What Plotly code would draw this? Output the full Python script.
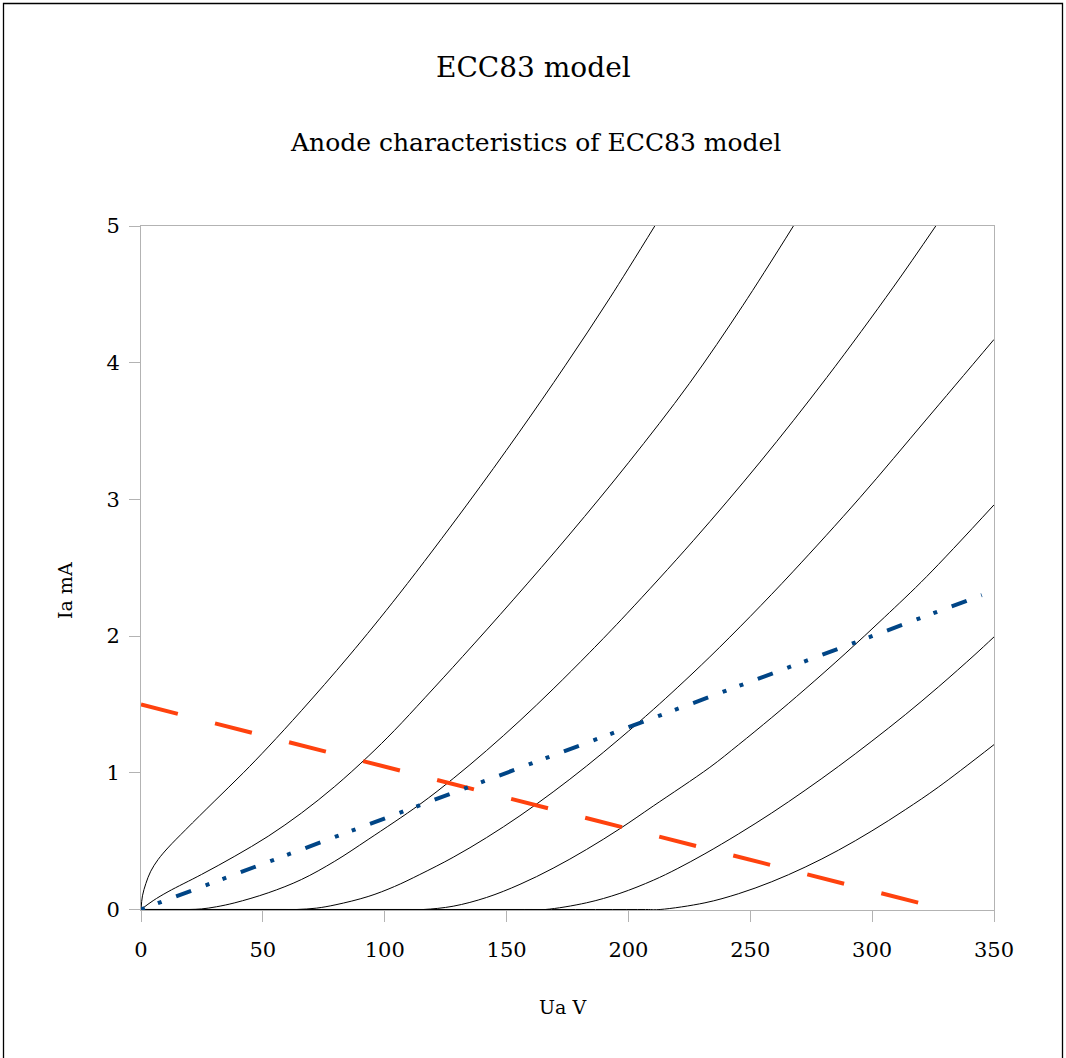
import plotly.graph_objects as go

# ---- data (Ua in V, Ia in mA) ----
ua_g1 = [0, 0.6, 2, 4, 7, 11, 18.4, 30, 42, 52.2, 65.8, 85.3, 106, 133.6, 155, 174, 192.4, 210.8]
ia_g1 = [0, 0.10, 0.19, 0.28, 0.365, 0.45, 0.585, 0.79, 1.0, 1.189, 1.454, 1.854, 2.309, 2.958, 3.487, 3.977, 4.474, 5.0]

ua_g2 = [0, 5, 11.1, 24.8, 38.5, 52.2, 65.8, 79.5, 93.2, 104, 116.5, 132, 152.7, 176, 200, 225, 247, 267.7]
ia_g2 = [0, 0.065, 0.13, 0.256, 0.39, 0.536, 0.705, 0.90, 1.12, 1.31, 1.549, 1.851, 2.265, 2.747, 3.268, 3.848, 4.42, 5.0]

ua_g3 = [0, 15, 20, 24.8, 31, 38.5, 52.2, 65.8, 79.5, 93.2, 114.4, 128.1, 141.8, 155.5, 169.1, 184.2, 199.3, 226.6, 254, 281.4, 308.7, 326.1]
ia_g3 = [0, 0, 0, 0.004, 0.02, 0.049, 0.122, 0.219, 0.353, 0.512, 0.769, 0.958, 1.163, 1.382, 1.613, 1.882, 2.163, 2.698, 3.273, 3.892, 4.553, 5.0]

ua_g4 = [0, 58, 64, 72, 80, 93.2, 104, 114.4, 128.1, 141.8, 155.5, 169.1, 182.8, 196.5, 210.2, 220, 233.4, 250, 267.7, 295, 322.4, 350]
ia_g4 = [0, 0, 0, 0.01, 0.035, 0.095, 0.168, 0.256, 0.382, 0.526, 0.686, 0.860, 1.049, 1.251, 1.463, 1.622, 1.848, 2.144, 2.475, 3.013, 3.588, 4.17]

ua_g5 = [0, 110, 116, 128.1, 141.8, 155.5, 169.1, 182.8, 196.5, 210.2, 233.4, 245.1, 258.8, 272.5, 288.9, 305, 322.4, 350]
ia_g5 = [0, 0, 0, 0.024, 0.088, 0.184, 0.302, 0.439, 0.591, 0.757, 1.040, 1.204, 1.404, 1.612, 1.871, 2.137, 2.436, 2.96]

ua_g6 = [0, 160, 166, 182.8, 196.5, 210.2, 220, 231.4, 245.1, 258.8, 272.5, 286.2, 299.9, 313.6, 327.3, 342.2, 350]
ia_g6 = [0, 0, 0, 0.049, 0.118, 0.214, 0.298, 0.408, 0.552, 0.706, 0.872, 1.047, 1.232, 1.425, 1.630, 1.865, 1.994]

ua_g7 = [0, 207, 213, 231.4, 245.1, 258.8, 272.5, 286.2, 299.9, 313.6, 327.3, 350]
ia_g7 = [0, 0, 0, 0.049, 0.115, 0.203, 0.310, 0.434, 0.575, 0.730, 0.897, 1.206]

curve_names = ["Ug 0 V", "Ug -0.5 V", "Ug -1 V", "Ug -1.5 V", "Ug -2 V", "Ug -2.5 V", "Ug -3 V"]

load_ua = [0, 330]
load_ia = [1.5, 0]

line2_ua = [0, 345]
line2_ia = [0, 2.3]

x_ticks = [0, 50, 100, 150, 200, 250, 300, 350]
y_ticks = [0, 1, 2, 3, 4, 5]

FONT = "DejaVu Serif"
GRAY = "#b3b3b3"

fig = go.Figure()
curves = [(ua_g1, ia_g1), (ua_g2, ia_g2), (ua_g3, ia_g3), (ua_g4, ia_g4),
          (ua_g5, ia_g5), (ua_g6, ia_g6), (ua_g7, ia_g7)]
for (ua, ia), name in zip(curves, curve_names):
    fig.add_trace(go.Scatter(x=ua, y=ia, mode="lines", name=name,
                             line=dict(color="black", width=1, shape="spline", smoothing=1),
                             hoverinfo="skip", showlegend=False))

fig.add_trace(go.Scatter(x=load_ua, y=load_ia, mode="lines", name="load line",
                         line=dict(color="#ff420e", width=4, dash="38px,38.4px"),
                         showlegend=False))
fig.add_trace(go.Scatter(x=line2_ua, y=line2_ia, mode="lines", name="line",
                         line=dict(color="#004586", width=4,
                                   dash="4px,14px,4px,15.5px,16px,15.5px"),
                         showlegend=False))

L, R, T, B = 141, 72, 226, 148
W, H = 1066, 1058
pw, ph = W - L - R, H - T - B


def px(xp):
    return (xp - L) / pw


def py(yp):
    return (H - B - yp) / ph


fig.update_layout(
    width=W, height=H,
    margin=dict(l=L, r=R, t=T, b=B, pad=0),
    paper_bgcolor="white", plot_bgcolor="white",
    font=dict(family=FONT, color="black"),
    showlegend=False,
    xaxis=dict(range=[0, 350], tickvals=x_ticks, ticktext=[str(v) for v in x_ticks],
               ticks="outside", ticklen=11, tickwidth=1, tickcolor=GRAY,
               showline=True, linecolor=GRAY, linewidth=1, mirror=True,
               showgrid=False, zeroline=False, layer="below traces",
               tickfont=dict(family=FONT, size=21, color="black"),
               ticklabelstandoff=10),
    yaxis=dict(range=[-0.0037, 5], tickvals=y_ticks, ticktext=[str(v) for v in y_ticks],
               ticks="outside", ticklen=11, tickwidth=1, tickcolor=GRAY,
               showline=True, linecolor=GRAY, linewidth=1, mirror=True,
               showgrid=False, zeroline=False, layer="below traces",
               tickfont=dict(family=FONT, size=21, color="black"),
               ticklabelstandoff=5),
    annotations=[
        dict(text="ECC83 model", x=px(533), y=py(67.6), xref="paper", yref="paper",
             xanchor="center", yanchor="middle", showarrow=False,
             font=dict(family=FONT, size=28, color="black")),
        dict(text="Anode characteristics of ECC83 model", x=px(535), y=py(142),
             xref="paper", yref="paper", xanchor="center", yanchor="middle",
             showarrow=False, font=dict(family=FONT, size=25, color="black")),
        dict(text="Ua V", x=px(562), y=py(1007), xref="paper", yref="paper",
             xanchor="center", yanchor="middle", showarrow=False,
             font=dict(family=FONT, size=19, color="black")),
        dict(text="Ia mA", x=px(65), y=py(591), xref="paper", yref="paper",
             xanchor="center", yanchor="middle", showarrow=False, textangle=-90,
             font=dict(family=FONT, size=19, color="black")),
    ],
    shapes=[
        dict(type="rect", xref="paper", yref="paper",
             x0=px(3.5), x1=px(1062.5), y0=py(1070), y1=py(3.5),
             line=dict(color="black", width=1.3), fillcolor="rgba(0,0,0,0)", layer="above"),
    ],
)

fig.write_html("out.html")
